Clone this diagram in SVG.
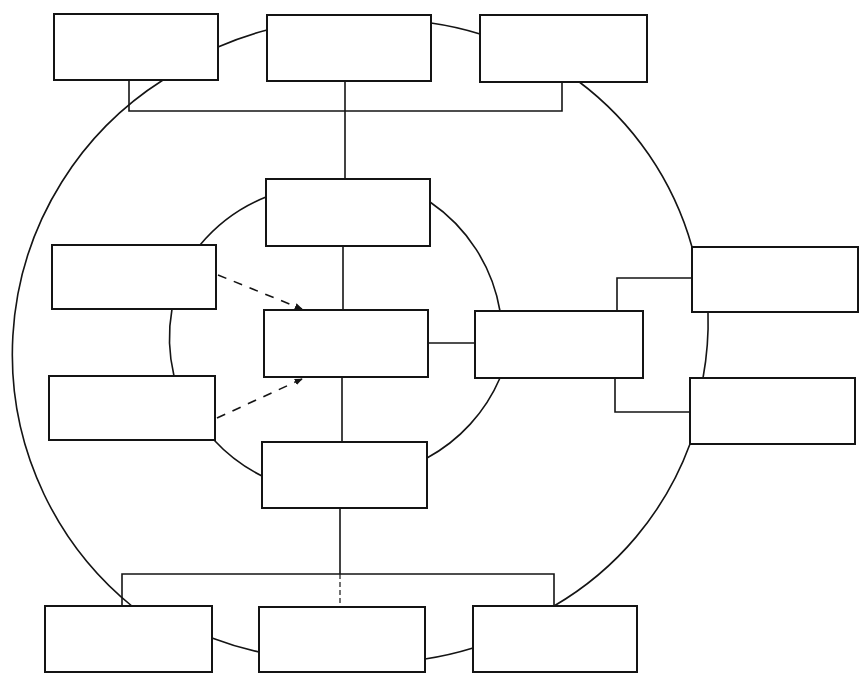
<svg xmlns="http://www.w3.org/2000/svg" width="865" height="679" viewBox="0 0 865 679">
<style>
.box{fill:#fff;stroke:#141414;stroke-width:2}
.ln{fill:none;stroke:#141414;stroke-width:1.6}
.dash{fill:none;stroke:#141414;stroke-width:1.6;stroke-dasharray:9 8}
.dot{fill:none;stroke:#141414;stroke-width:1.2;stroke-dasharray:5 3}
</style>
<defs>
<marker id="ah" viewBox="0 0 10 10" refX="9" refY="5" markerWidth="5" markerHeight="5" orient="auto">
<path d="M0,1 L10,5 L0,9 z" fill="#141414"/>
</marker>
</defs>
<rect width="865" height="679" fill="#fff"/>
<g id="connectors">
<path class="ln" d="M266 197 A165 165 0 0 0 200 245"/>
<path class="ln" d="M172 309 A165 165 0 0 0 174 376"/>
<path class="ln" d="M214 440 A165 165 0 0 0 262 476"/>
<path class="ln" d="M427 458 A165 165 0 0 0 500 378"/>
<path class="ln" d="M500 311 A165 165 0 0 0 430 202"/>
<path class="ln" d="M267 30 A330 330 0 0 0 218 47"/>
<path class="ln" d="M163 80 A325 325 0 0 0 133 607"/>
<path class="ln" d="M212 638 A330 330 0 0 0 259 652"/>
<path class="ln" d="M425 659 A330 330 0 0 0 473 648"/>
<path class="ln" d="M554 606 A312 312 0 0 0 690 444"/>
<path class="ln" d="M703 378 A312 312 0 0 0 708 312"/>
<path class="ln" d="M692 247 A312 312 0 0 0 578 81"/>
<path class="ln" d="M480 34 A312 312 0 0 0 431 23"/>
<path class="ln" d="M129 80 V111 H562 V82"/>
<path class="ln" d="M345 81 V179"/>
<path class="ln" d="M343 246 V310"/>
<path class="ln" d="M342 377 V442"/>
<path class="ln" d="M340 508 V574"/>
<path class="dot" d="M340 574 V606"/>
<path class="ln" d="M122 606 V574 H554 V606"/>
<path class="ln" d="M428 343 H475"/>
<path class="ln" d="M617 311 V278 H692"/>
<path class="ln" d="M615 378 V412 H690"/>
<path class="dash" d="M218 275 L302 309" marker-end="url(#ah)"/>
<path class="dash" d="M217 418 L302 379" marker-end="url(#ah)"/>
</g>
<g id="n-tl"><rect class="box" x="54" y="14" width="164" height="66"/></g>
<g id="n-tc"><rect class="box" x="267" y="15" width="164" height="66"/></g>
<g id="n-tr"><rect class="box" x="480" y="15" width="167" height="67"/></g>
<g id="n-cu"><rect class="box" x="266" y="179" width="164" height="67"/></g>
<g id="n-lu"><rect class="box" x="52" y="245" width="164" height="64"/></g>
<g id="n-cm"><rect class="box" x="264" y="310" width="164" height="67"/></g>
<g id="n-ll"><rect class="box" x="49" y="376" width="166" height="64"/></g>
<g id="n-cl"><rect class="box" x="262" y="442" width="165" height="66"/></g>
<g id="n-rc"><rect class="box" x="475" y="311" width="168" height="67"/></g>
<g id="n-ru"><rect class="box" x="692" y="247" width="166" height="65"/></g>
<g id="n-rl"><rect class="box" x="690" y="378" width="165" height="66"/></g>
<g id="n-bl"><rect class="box" x="45" y="606" width="167" height="66"/></g>
<g id="n-bc"><rect class="box" x="259" y="607" width="166" height="65"/></g>
<g id="n-br"><rect class="box" x="473" y="606" width="164" height="66"/></g>
</svg>
